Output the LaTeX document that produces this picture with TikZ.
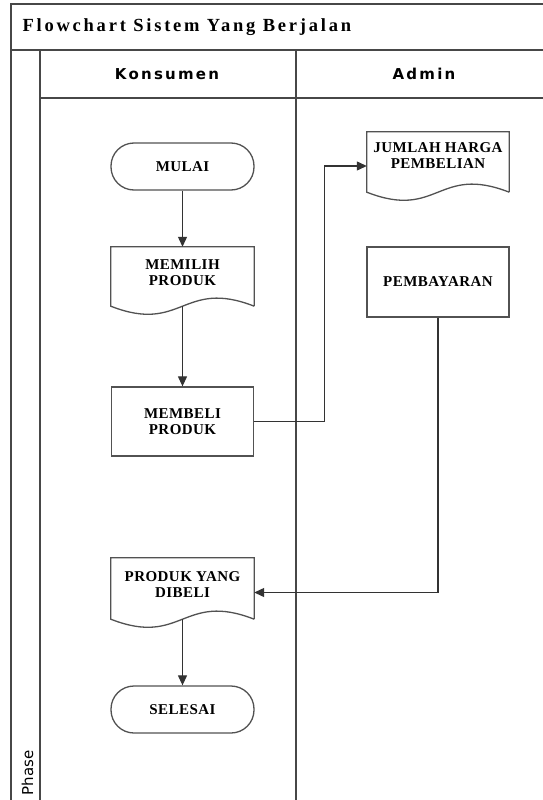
\documentclass[tikz,border=0pt]{standalone}
\usepackage{fontspec}
\setmainfont{Liberation Serif}
\newfontfamily\lanefont[LetterSpace=15]{DejaVu Sans}
\newfontfamily\boxfont[LetterSpace=3]{Liberation Serif}
\newfontfamily\titlefont[LetterSpace=15]{Liberation Serif}
\newfontfamily\phasefont{DejaVu Sans}
\usetikzlibrary{arrows.meta,calc}

% document symbol: straight top and sides, wavy bottom edge
\newcommand{\docshape}[1]{%
  \draw[outline] (#1.south east) -- (#1.north east) -- (#1.north west) -- (#1.south west)
    .. controls +(71.5,28) and +(-71.5,-28) .. (#1.south east);}

\begin{document}
\begin{tikzpicture}[x=1pt,y=-1pt,
  frame/.style={draw=black!72, line width=1.6pt},
  outline/.style={draw=black!68, line width=1.3pt},
  flow/.style={draw=black!80, line width=1.2pt, -{Triangle[length=10pt,width=9pt]}},
  boxtext/.style={font=\boxfont\bfseries\fontsize{15}{16}\selectfont, align=center, inner sep=0pt},
  term/.style={boxtext, outline, rounded corners=23pt, minimum width=143pt, minimum height=47pt},
  procbox/.style={boxtext, outline, minimum width=142pt},
  docbody/.style={minimum width=143pt, inner sep=0pt},
  lanetitle/.style={font=\lanefont\bfseries\fontsize{15}{18}\selectfont, anchor=base}
]
\useasboundingbox (0,0) rectangle (543,800);
\fill[white] (0,0) rectangle (543,800);
\clip (0,0) rectangle (543,800);

% pool frame, title bar, phase column and lanes
\draw[frame] (11,4) rectangle (560,830);
\draw[frame] (11,50) -- (560,50);
\draw[frame] (40,50) -- (40,830);
\draw[frame] (40,98) -- (560,98);
\draw[frame] (296,50) -- (296,830);

\node[anchor=base west, font=\titlefont\bfseries\fontsize{18.5}{20}\selectfont] (title) at (19,32) {Flowchart Sistem Yang Berjalan};
\node[lanetitle] (konsumen) at (167,79) {Konsumen};
\node[lanetitle] (admin) at (424,79) {Admin};
\node[rotate=90, anchor=base west, font=\phasefont\fontsize{15}{18}\selectfont] (phase) at (33,799) {Phase};

% Konsumen lane
\node[term] (mulai) at (182.5,166.5) {MULAI};
\node[docbody, minimum height=59pt] (memilih) at (182.5,276.5) {};
\docshape{memilih}
\node[boxtext] (memilihtext) at ([yshift=4pt]memilih.center) {MEMILIH\\PRODUK};
\node[procbox, minimum height=69pt] (membeli) at (182.5,421.5) {MEMBELI\\PRODUK};
\node[docbody, minimum height=61pt] (dibeli) at (182.5,588.5) {};
\docshape{dibeli}
\node[boxtext] (dibelitext) at ([yshift=4pt]dibeli.center) {PRODUK YANG\\DIBELI};
\node[term] (selesai) at (182.5,709.5) {SELESAI};

% Admin lane
\node[docbody, minimum width=142pt, minimum height=60pt] (jumlah) at (438,162) {};
\docshape{jumlah}
\node[boxtext] (jumlahtext) at ([yshift=6pt]jumlah.center) {JUMLAH HARGA\\PEMBELIAN};
\node[procbox, minimum height=70pt] (bayar) at (438,282) {PEMBAYARAN};

% connectors
\draw[flow] (mulai) -- (memilih);
\draw[flow] (memilih.south) -- (membeli.north);
\draw[flow] (membeli.east) -- ++(70,0) |- ([yshift=-4pt]jumlah.west);
\draw[flow] (bayar.south) |- ([yshift=-4pt]dibeli.east);
\draw[flow] (dibeli.south) -- (selesai.north);
\end{tikzpicture}
\end{document}
